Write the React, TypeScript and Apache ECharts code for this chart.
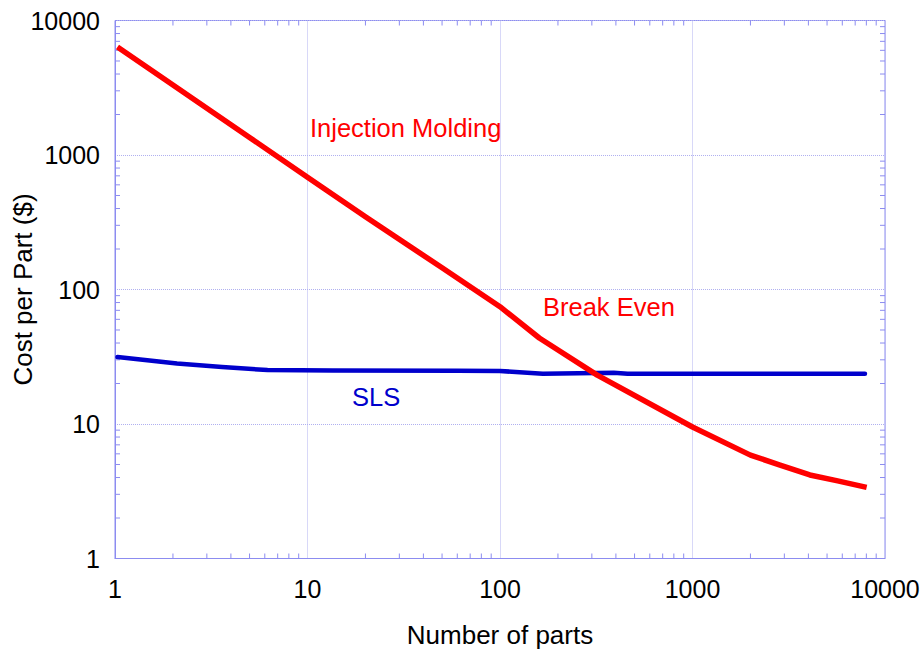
import React, { useEffect, useRef } from 'react';
import * as echarts from 'echarts';

// Injection molding: number of parts vs cost per part ($)
const injectionParts = [1.03, 2, 5, 10, 20, 50, 100, 160, 320, 1000, 2000, 2850, 4070, 5600, 8030];
const injectionCost = [6350, 3320, 1350, 682, 347, 145, 74.5, 43.6, 23.1, 9.5, 5.87, 4.95, 4.18, 3.79, 3.38];

// SLS: number of parts vs cost per part ($)
const slsParts = [1.03, 2.1, 3.6, 6.2, 13.5, 60, 100, 167, 390, 460, 7870];
const slsCost = [31.5, 28.2, 26.5, 25.2, 25.0, 24.9, 24.8, 23.6, 24.0, 23.6, 23.6];

// Axis decoration
const axisMin = 1;
const axisMax = 10000;
const minorMantissas = [2, 3, 4, 5, 6, 7, 8, 9];
const decades = [1, 10, 100, 1000];
const minorTickValues = decades.flatMap((d) => minorMantissas.map((m) => m * d));

const FONT = "'Liberation Sans', Arial, Helvetica, sans-serif";
const FRAME = '#8c8cf0';
const GRID = '#b0b0f0';
const RED = '#ff0000';
const BLUE = '#0000cc';

export default function App() {
  const ref = useRef<HTMLDivElement>(null);

  useEffect(() => {
    if (!ref.current) return;
    const chart = echarts.init(ref.current, null, { renderer: 'svg' });
    const tickLen = 5;

    const option: any = {
      animation: false,
      backgroundColor: '#ffffff',
      grid: {
        left: 115,
        right: 37,
        top: 20.5,
        bottom: 93.5,
        containLabel: false,
        outerBoundsMode: 'none',
        show: true,
        borderColor: FRAME,
        borderWidth: 1,
        backgroundColor: 'transparent',
      },
      xAxis: {
        type: 'log',
        logBase: 10,
        min: axisMin,
        max: axisMax,
        name: 'Number of parts',
        nameLocation: 'middle',
        nameGap: 63,
        nameMoveOverlap: false,
        nameTextStyle: { fontFamily: FONT, fontSize: 26, color: '#000' },
        axisLine: { show: true, lineStyle: { color: FRAME, width: 1 } },
        axisTick: { show: false },
        axisLabel: {
          fontFamily: FONT,
          fontSize: 25,
          color: '#000',
          margin: 18,
          formatter: (v: number) => String(Math.round(v)),
        },
        splitLine: { show: true, lineStyle: { color: GRID, type: 'dotted', width: 1 } },
      },
      yAxis: {
        type: 'log',
        logBase: 10,
        min: axisMin,
        max: axisMax,
        name: 'Cost per Part ($)',
        nameLocation: 'middle',
        nameGap: 79,
        nameMoveOverlap: false,
        nameTextStyle: { fontFamily: FONT, fontSize: 26, color: '#000' },
        axisLine: { show: true, lineStyle: { color: FRAME, width: 1 } },
        axisTick: { show: false },
        axisLabel: {
          fontFamily: FONT,
          fontSize: 25,
          color: '#000',
          margin: 15,
          formatter: (v: number) => String(Math.round(v)),
        },
        splitLine: { show: true, lineStyle: { color: GRID, type: 'dotted', width: 1 } },
      },
      series: [
        {
          type: 'custom',
          silent: true,
          clip: false,
          data: minorTickValues.map((v) => [v, axisMin]),
          encode: { x: 0, y: 1 },
          renderItem: (_p: any, api: any) => {
            const v = api.value(0);
            const b = api.coord([v, axisMin]);
            const t = api.coord([v, axisMax]);
            const style = { stroke: FRAME, lineWidth: 1 };
            return {
              type: 'group',
              children: [
                { type: 'line', shape: { x1: b[0], y1: b[1], x2: b[0], y2: b[1] - tickLen }, style },
                { type: 'line', shape: { x1: t[0], y1: t[1], x2: t[0], y2: t[1] + tickLen }, style },
              ],
            };
          },
          z: 1,
        },
        {
          type: 'custom',
          silent: true,
          clip: false,
          data: minorTickValues.map((v) => [axisMin, v]),
          encode: { x: 0, y: 1 },
          renderItem: (_p: any, api: any) => {
            const v = api.value(1);
            const l = api.coord([axisMin, v]);
            const r = api.coord([axisMax, v]);
            const style = { stroke: FRAME, lineWidth: 1 };
            return {
              type: 'group',
              children: [
                { type: 'line', shape: { x1: l[0], y1: l[1], x2: l[0] + tickLen, y2: l[1] }, style },
                { type: 'line', shape: { x1: r[0], y1: r[1], x2: r[0] - tickLen, y2: r[1] }, style },
              ],
            };
          },
          z: 1,
        },
        {
          name: 'SLS',
          type: 'line',
          data: slsParts.map((n, i) => [n, slsCost[i]]),
          showSymbol: false,
          symbol: 'none',
          lineStyle: { color: BLUE, width: 4.5, join: 'round', cap: 'round' },
          z: 3,
        },
        {
          name: 'Injection Molding',
          type: 'line',
          data: injectionParts.map((n, i) => [n, injectionCost[i]]),
          showSymbol: false,
          symbol: 'none',
          lineStyle: { color: RED, width: 5.5, join: 'round', cap: 'butt' },
          z: 4,
        },
      ],
      graphic: [
        {
          type: 'text',
          left: 310,
          top: 115,
          style: { text: 'Injection Molding', fill: RED, font: `25.5px ${FONT}` },
        },
        {
          type: 'text',
          left: 543,
          top: 294,
          style: { text: 'Break Even', fill: RED, font: `25.5px ${FONT}` },
        },
        {
          type: 'text',
          left: 352,
          top: 384,
          style: { text: 'SLS', fill: BLUE, font: `25.5px ${FONT}` },
        },
      ],
    };

    chart.setOption(option);
    return () => chart.dispose();
  }, []);

  return (
    <div
      ref={ref}
      style={{ position: 'fixed', left: 0, top: 0, width: 922, height: 652, background: '#fff' }}
    />
  );
}
